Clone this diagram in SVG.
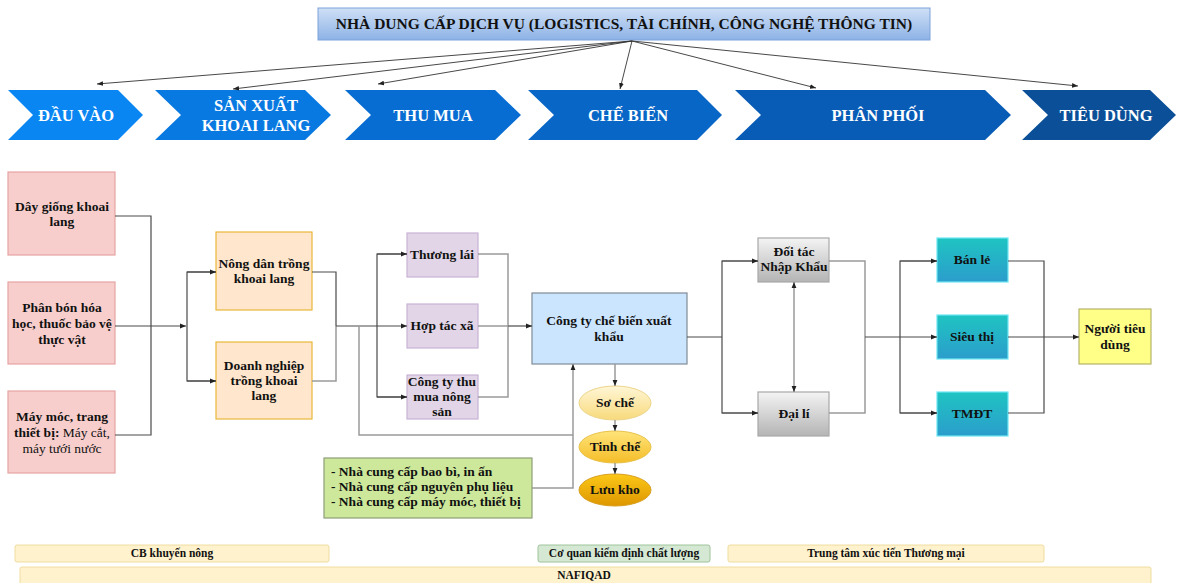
<svg xmlns="http://www.w3.org/2000/svg" width="1179" height="583" viewBox="0 0 1179 583">
  <defs>
    <linearGradient id="gHeader" x1="0" y1="0" x2="0" y2="1">
      <stop offset="0" stop-color="#cfe0f6"/>
      <stop offset="1" stop-color="#8db2e6"/>
    </linearGradient>
    <linearGradient id="gGray" x1="0" y1="0" x2="0" y2="1">
      <stop offset="0" stop-color="#f4f4f4"/>
      <stop offset="1" stop-color="#b4b4b4"/>
    </linearGradient>
    <linearGradient id="gTeal" x1="0" y1="0" x2="0" y2="1">
      <stop offset="0" stop-color="#1fc4c2"/>
      <stop offset="1" stop-color="#2b9dcc"/>
    </linearGradient>
    <linearGradient id="gSo" x1="0" y1="0" x2="0" y2="1">
      <stop offset="0" stop-color="#fff6d6"/>
      <stop offset="1" stop-color="#f8da7c"/>
    </linearGradient>
    <linearGradient id="gTinh" x1="0" y1="0" x2="0" y2="1">
      <stop offset="0" stop-color="#ffe47a"/>
      <stop offset="1" stop-color="#f4bd28"/>
    </linearGradient>
    <linearGradient id="gLuu" x1="0" y1="0" x2="0" y2="1">
      <stop offset="0" stop-color="#fbc818"/>
      <stop offset="1" stop-color="#de9600"/>
    </linearGradient>
    <marker id="arr" viewBox="0 0 10 10" refX="10" refY="5" markerWidth="6" markerHeight="6" orient="auto" markerUnits="userSpaceOnUse">
      <path d="M0,1 L10,5 L0,9 z" fill="#222"/>
    </marker>
    <marker id="arrS" viewBox="0 0 10 10" refX="0" refY="5" markerWidth="6" markerHeight="6" orient="auto" markerUnits="userSpaceOnUse">
      <path d="M10,1 L0,5 L10,9 z" fill="#222"/>
    </marker>
  </defs>
  <style>
    text { font-family: "Liberation Serif", "Times New Roman", serif; font-weight: bold; fill: #111; text-anchor: middle; }
    .hdr { font-size: 15.5px; }
    .chev text { fill: #ffffff; font-size: 16.5px; }
    .n { font-size: 13.5px; }
    .s { font-size: 13.5px; text-anchor: start; }
    .b { font-size: 11.5px; }
    .reg { font-weight: normal; }
    .pink { fill: #f8cecc; stroke: #e4a4a2; stroke-width: 1.2; }
    .orange { fill: #ffe6cc; stroke: #e9b83a; stroke-width: 1.2; }
    .purple { fill: #e1d5e7; stroke: #c9b3d6; stroke-width: 1.2; }
    .blue { fill: #cce5ff; stroke: #7f8a96; stroke-width: 1.2; }
    .gray { fill: url(#gGray); stroke: #a8a8a8; stroke-width: 1.2; }
    .teal { fill: url(#gTeal); stroke: #6fe6f2; stroke-width: 1.2; }
    .yellow { fill: #ffff88; stroke: #b4b46a; stroke-width: 1.2; }
    .green { fill: #cde89a; stroke: #8e9e78; stroke-width: 1.2; }
    .bar { fill: #fff2cc; stroke: #f0dca0; stroke-width: 1; }
    .barg { fill: #d5e8d4; stroke: #9ec49a; stroke-width: 1; }
    .c { fill: none; stroke: #4a4a4a; stroke-width: 1.2; }
    .cl { fill: none; stroke: #9a9a9a; stroke-width: 1.5; }
    .ct { fill: none; stroke: #333; stroke-width: 0.9; }
  </style>

  <!-- service provider header -->
  <g id="header">
    <rect x="318" y="8" width="612" height="32" fill="url(#gHeader)" stroke="#7ea3da" stroke-width="1"/>
    <text class="hdr" x="624" y="29">NHÀ DUNG CẤP DỊCH VỤ (LOGISTICS, TÀI CHÍNH, CÔNG NGHỆ THÔNG TIN)</text>
  </g>

  <!-- value chain stages -->
  <g id="stage-dau-vao" class="chev">
    <polygon points="8,90 118,90 143,115 118,140 8,140 33,115" fill="#0a86f2"/>
    <text x="76" y="121">ĐẦU VÀO</text>
  </g>
  <g id="stage-san-xuat" class="chev">
    <polygon points="155,90 305,90 331,115 305,140 155,140 181,115" fill="#0979e2"/>
    <text x="256" y="111">SẢN XUẤT</text>
    <text x="256" y="131">KHOAI LANG</text>
  </g>
  <g id="stage-thu-mua" class="chev">
    <polygon points="345,90 495,90 521,115 495,140 345,140 371,115" fill="#076dd2"/>
    <text x="433" y="121">THU MUA</text>
  </g>
  <g id="stage-che-bien" class="chev">
    <polygon points="528,90 697,90 722,115 697,140 528,140 554,115" fill="#0866c6"/>
    <text x="628" y="121">CHẾ BIẾN</text>
  </g>
  <g id="stage-phan-phoi" class="chev">
    <polygon points="735,90 985,90 1011,115 985,140 735,140 761,115" fill="#085cb6"/>
    <text x="878" y="121">PHÂN PHỐI</text>
  </g>
  <g id="stage-tieu-dung" class="chev">
    <polygon points="1022,90 1150,90 1176,115 1150,140 1022,140 1048,115" fill="#0a4f98"/>
    <text x="1106" y="121">TIÊU DÙNG</text>
  </g>

  <!-- inputs -->
  <g id="n-day-giong">
    <rect class="pink" x="8" y="172" width="107" height="83"/>
    <text class="n" x="62" y="211">Dây giống khoai</text>
    <text class="n" x="62" y="226">lang</text>
  </g>
  <g id="n-phan-bon">
    <rect class="pink" x="8" y="282" width="107" height="82"/>
    <text class="n" x="62" y="312">Phân bón hóa</text>
    <text class="n" x="62" y="328">học, thuốc bảo vệ</text>
    <text class="n" x="62" y="344">thực vật</text>
  </g>
  <g id="n-may-moc">
    <rect class="pink" x="8" y="391" width="107" height="82"/>
    <text class="n" x="62" y="421">Máy móc, trang</text>
    <text class="n" x="62" y="437">thiết bị: <tspan class="reg">Máy cắt,</tspan></text>
    <text class="n reg" x="62" y="453">máy tưới nước</text>
  </g>

  <!-- growers -->
  <g id="n-nong-dan">
    <rect class="orange" x="216" y="232" width="96" height="78"/>
    <text class="n" x="264" y="268">Nông dân trồng</text>
    <text class="n" x="264" y="283">khoai lang</text>
  </g>
  <g id="n-doanh-nghiep">
    <rect class="orange" x="216" y="342" width="96" height="77"/>
    <text class="n" x="264" y="370">Doanh nghiệp</text>
    <text class="n" x="264" y="385">trồng khoai</text>
    <text class="n" x="264" y="400">lang</text>
  </g>

  <!-- collectors -->
  <g id="n-thuong-lai">
    <rect class="purple" x="407" y="233" width="71" height="44"/>
    <text class="n" x="442" y="259">Thương lái</text>
  </g>
  <g id="n-hop-tac-xa">
    <rect class="purple" x="407" y="304" width="71" height="44"/>
    <text class="n" x="442" y="330">Hợp tác xã</text>
  </g>
  <g id="n-cong-ty-thu-mua">
    <rect class="purple" x="407" y="375" width="71" height="44"/>
    <text class="n" x="442" y="386">Công ty thu</text>
    <text class="n" x="442" y="401">mua nông</text>
    <text class="n" x="442" y="416">sản</text>
  </g>

  <!-- processing -->
  <g id="n-che-bien">
    <rect class="blue" x="532" y="293" width="155" height="71"/>
    <text class="n" x="609" y="325">Công ty chế biến xuất</text>
    <text class="n" x="609" y="341">khẩu</text>
  </g>
  <g id="n-so-che">
    <ellipse cx="615" cy="403" rx="36" ry="17" fill="url(#gSo)" stroke="#ecd58c" stroke-width="1"/>
    <text class="n" x="615" y="407">Sơ chế</text>
  </g>
  <g id="n-tinh-che">
    <ellipse cx="615" cy="447" rx="36" ry="16" fill="url(#gTinh)" stroke="#e8c24a" stroke-width="1"/>
    <text class="n" x="615" y="451">Tinh chế</text>
  </g>
  <g id="n-luu-kho">
    <ellipse cx="615" cy="490" rx="36" ry="16" fill="url(#gLuu)" stroke="#d8a020" stroke-width="1"/>
    <text class="n" x="615" y="494">Lưu kho</text>
  </g>
  <g id="n-nha-cung-cap">
    <rect class="green" x="324" y="458" width="208" height="60"/>
    <text class="s" x="331" y="476">- Nhà cung cấp bao bì, in ấn</text>
    <text class="s" x="331" y="491">- Nhà cung cấp nguyên phụ liệu</text>
    <text class="s" x="331" y="506">- Nhà cung cấp máy móc, thiết bị</text>
  </g>

  <!-- distribution -->
  <g id="n-doi-tac">
    <rect class="gray" x="758" y="238" width="71" height="44"/>
    <text class="n" x="794" y="256">Đối tác</text>
    <text class="n" x="794" y="271">Nhập Khẩu</text>
  </g>
  <g id="n-dai-li">
    <rect class="gray" x="758" y="392" width="71" height="44"/>
    <text class="n" x="794" y="418">Đại lí</text>
  </g>
  <g id="n-ban-le">
    <rect class="teal" x="937" y="238" width="71" height="44"/>
    <text class="n" x="972" y="264">Bán lẻ</text>
  </g>
  <g id="n-sieu-thi">
    <rect class="teal" x="937" y="315" width="71" height="44"/>
    <text class="n" x="972" y="341">Siêu thị</text>
  </g>
  <g id="n-tmdt">
    <rect class="teal" x="937" y="392" width="71" height="44"/>
    <text class="n" x="972" y="418">TMĐT</text>
  </g>
  <g id="n-nguoi-tieu-dung">
    <rect class="yellow" x="1079" y="309" width="72" height="55"/>
    <text class="n" x="1115" y="333">Người tiêu</text>
    <text class="n" x="1115" y="349">dùng</text>
  </g>

  <!-- supporting agencies -->
  <g id="n-khuyen-nong">
    <rect class="bar" x="15" y="545" width="314" height="17" rx="2"/>
    <text class="b" x="172" y="557">CB khuyến nông</text>
  </g>
  <g id="n-kiem-dinh">
    <rect class="barg" x="538" y="545" width="172" height="17" rx="2"/>
    <text class="b" x="624" y="557">Cơ quan kiểm định chất lượng</text>
  </g>
  <g id="n-xuc-tien">
    <rect class="bar" x="728" y="545" width="316" height="17" rx="2"/>
    <text class="b" x="886" y="557">Trung tâm xúc tiến Thương mại</text>
  </g>
  <g id="n-nafiqad">
    <rect class="bar" x="20" y="567" width="1131" height="20" rx="2"/>
    <text class="b" x="584" y="579">NAFIQAD</text>
  </g>

  <!-- connectors -->
  <g id="connectors">
    <!-- header fan-out -->
    <line class="ct" x1="632" y1="41" x2="97" y2="84" marker-end="url(#arr)"/>
    <line class="ct" x1="632" y1="41" x2="233" y2="89" marker-end="url(#arr)"/>
    <line class="ct" x1="632" y1="41" x2="378" y2="84" marker-end="url(#arr)"/>
    <line class="ct" x1="632" y1="41" x2="620" y2="89" marker-end="url(#arr)"/>
    <line class="ct" x1="632" y1="41" x2="816" y2="88" marker-end="url(#arr)"/>
    <line class="ct" x1="632" y1="41" x2="1078" y2="86" marker-end="url(#arr)"/>

    <!-- inputs to growers -->
    <polyline class="c" points="115,216 151,216 151,435 115,435"/>
    <line class="c" x1="115" y1="326" x2="186" y2="326" marker-end="url(#arr)"/>
    <polyline class="c" points="216,272 187,272 187,381 216,381"/>
    <line class="c" x1="187" y1="272" x2="216" y2="272" marker-end="url(#arr)"/>
    <line class="c" x1="187" y1="381" x2="216" y2="381" marker-end="url(#arr)"/>

    <!-- growers to collectors -->
    <polyline class="c" points="312,272 336,272 336,326"/>
    <polyline class="cl" points="312,381 336,381 336,326"/>
    <line class="c" x1="336" y1="326" x2="407" y2="326" marker-end="url(#arr)"/>
    <polyline class="c" points="407,254 377,254 377,397 407,397"/>
    <line class="c" x1="377" y1="254" x2="407" y2="254" marker-end="url(#arr)"/>
    <line class="c" x1="377" y1="397" x2="407" y2="397" marker-end="url(#arr)"/>

    <!-- direct supply to processor -->
    <polyline class="cl" points="359,326 359,435 573,435"/>

    <!-- collectors to processor -->
    <polyline class="cl" points="478,254 508,254 508,397 478,397"/>
    <line class="cl" x1="478" y1="326" x2="508" y2="326"/>
    <line class="c" x1="508" y1="326" x2="532" y2="326" marker-end="url(#arr)"/>

    <!-- suppliers to processor -->
    <polyline class="cl" points="532,488 573,488 573,364" marker-end="url(#arr)"/>

    <!-- processing steps -->
    <line class="cl" x1="615" y1="364" x2="615" y2="386" marker-end="url(#arr)"/>
    <line class="cl" x1="615" y1="420" x2="615" y2="431" marker-end="url(#arr)"/>
    <line class="cl" x1="615" y1="463" x2="615" y2="474" marker-end="url(#arr)"/>

    <!-- processor to distribution -->
    <line class="c" x1="687" y1="337" x2="722" y2="337"/>
    <polyline class="c" points="758,261 722,261 722,413 758,413"/>
    <line class="c" x1="722" y1="261" x2="758" y2="261" marker-end="url(#arr)"/>
    <line class="c" x1="722" y1="413" x2="758" y2="413" marker-end="url(#arr)"/>
    <line class="cl" x1="794" y1="282" x2="794" y2="392" marker-start="url(#arrS)" marker-end="url(#arr)"/>

    <!-- distribution to retail -->
    <polyline class="cl" points="829,261 865,261 865,413 829,413"/>
    <line class="c" x1="865" y1="337" x2="937" y2="337" marker-end="url(#arr)"/>
    <polyline class="c" points="937,261 900,261 900,413 937,413"/>
    <line class="c" x1="900" y1="261" x2="937" y2="261" marker-end="url(#arr)"/>
    <line class="c" x1="900" y1="413" x2="937" y2="413" marker-end="url(#arr)"/>

    <!-- retail to consumer -->
    <polyline class="c" points="1008,261 1044,261 1044,413 1008,413"/>
    <line class="c" x1="1008" y1="337" x2="1079" y2="337" marker-end="url(#arr)"/>
  </g>
</svg>
